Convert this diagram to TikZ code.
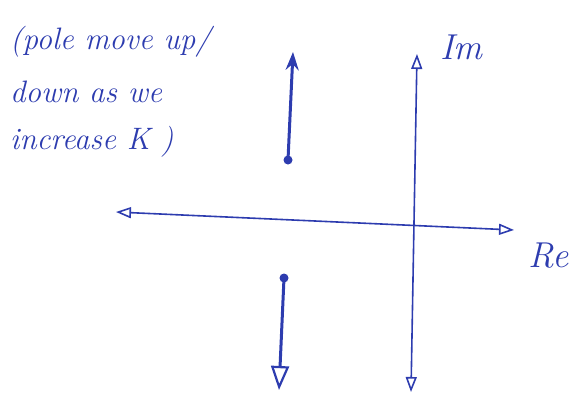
\documentclass[tikz,border=0pt]{standalone}
\usetikzlibrary{arrows.meta}
\definecolor{ink}{RGB}{45,60,175}
\begin{document}
\begin{tikzpicture}[x=1pt,y=-1pt,
  pen/.style={draw=ink,line width=1.6pt,line cap=round},
  bold/.style={draw=ink,line width=3pt,line cap=round},
  axtip/.tip={Triangle[open,length=15pt,width=11pt,line width=1.6pt]},
  hand/.style={text=ink,font=\itshape\fontsize{31}{36}\selectfont,inner sep=0pt,anchor=west},
  big/.style={text=ink,font=\itshape\fontsize{36}{40}\selectfont,inner sep=0pt,anchor=west}]
\useasboundingbox (0,0) rectangle (579,399);
% axes
\coordinate (reL) at (116,212);
\coordinate (reR) at (514,230);
\coordinate (imT) at (417,54);
\coordinate (imB) at (411,392);
\draw[pen,axtip-axtip] (reL) -- (reR);
\draw[pen,axtip-axtip] (imB) -- (imT);
\node[big] (im) at (440,47) {Im};
\node[big] (re) at (528,256) {Re};
% upper pole
\coordinate (p1) at (288,160);
\coordinate (p1t) at (293,52);
\fill[ink] (p1) circle (4.5pt);
\draw[bold,-{Stealth[length=18pt,width=13pt]}] (p1) -- (p1t);
% lower pole
\coordinate (p2) at (284,278);
\coordinate (p2t) at (279,390);
\fill[ink] (p2) circle (4.5pt);
\draw[bold,-{Triangle[open,length=24pt,width=18pt,line width=2.2pt]}] (p2) -- (p2t);
% note
\node[hand] (t1) at (10,42) {(pole move up/};
\node[hand] (t2) at (10,92) {down as we};
\node[hand] (t3) at (10,142) {increase K )};
\end{tikzpicture}
\end{document}
